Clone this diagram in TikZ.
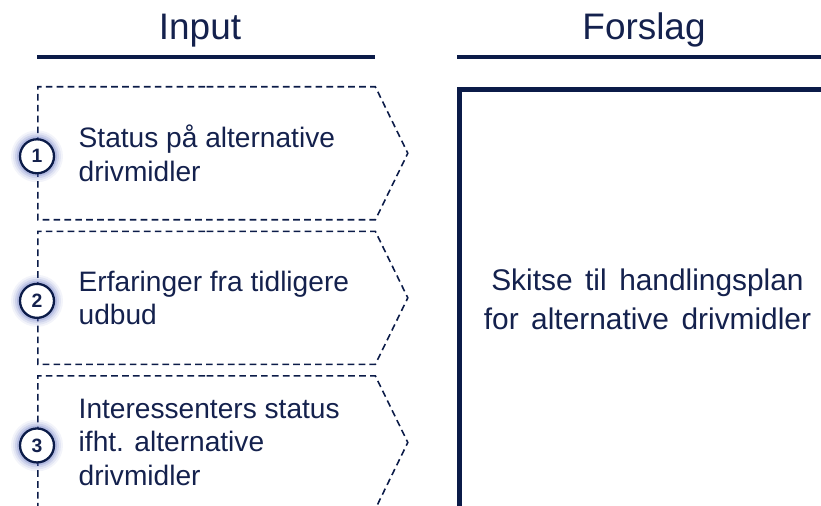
\documentclass[tikz,border=0pt]{standalone}
\usepackage{fontspec}
\setmainfont{Liberation Sans}
\usetikzlibrary{positioning,shapes.symbols}
\definecolor{cnavy}{HTML}{0B1B48}
\definecolor{ctext}{HTML}{14214D}
\definecolor{cglow}{HTML}{5566BB}
\newcommand\widespace{\spaceskip=0.42em\relax}

\begin{document}
\begin{tikzpicture}[
  title/.style={font=\fontsize{10.5}{12}\selectfont, text=ctext, anchor=base},
  rule/.style={draw=cnavy, line width=0.9pt},
  inbox/.style={draw=cnavy, dash pattern=on 1.9pt off 1.2pt, line width=0.45pt,
                shape=signal, signal to=east, signal pointer angle=128,
                minimum width=3.70cm, minimum height=1.33cm, inner sep=0pt},
  itemtext/.style={font=\fontsize{8}{9.6}\selectfont, text=ctext, align=left,
                   inner sep=0pt},
  num/.style={circle, draw=cnavy, line width=0.65pt, fill=white,
              minimum size=0.34cm, inner sep=0pt,
              font=\fontsize{5.5}{6}\selectfont\bfseries, text=ctext},
  node distance=0.10cm
]
\useasboundingbox (0,0) rectangle (8.21,5.06);
\clip (0,0) rectangle (8.21,5.06);

% column headings
\node[title] (tin) at (2.00,4.66) {Input};
\node[title] (tout) at (6.44,4.66) {Forslag};
\draw[rule] (0.37,4.49) -- (3.75,4.49);
\draw[rule] (4.57,4.49) -- (8.32,4.49);

% input chevrons
\node[inbox, anchor=north west] (b1) at (0.37,4.20) {};
\node[inbox, below=of b1] (b2) {};
\node[inbox, below=of b2] (b3) {};

\node[itemtext, right=0.41cm of b1.west, anchor=west] (t1)
  {Status på alternative\\drivmidler};
\node[itemtext, right=0.41cm of b2.west, anchor=west] (t2)
  {Erfaringer fra tidligere\\udbud};
\node[itemtext, right=0.41cm of b3.west, anchor=west] (t3)
  {Interessenters status\\ifht. alternative\\drivmidler};

% numbered markers with a soft halo
\foreach \b/\n in {b1/1,b2/2,b3/3}{
  \foreach \r/\o in {0.26/0.07,0.24/0.10,0.22/0.15,0.20/0.22}
    \fill[cglow, opacity=\o] ([yshift=-0.03cm]\b.west) circle (\r);
  \node[num] (n\n) at ([yshift=-0.03cm]\b.west) {\n};
}

% proposal box
\node[draw=cnavy, line width=1.4pt, anchor=north west,
      minimum width=3.76cm, minimum height=4.20cm,
      font=\fontsize{8.5}{11.3}\selectfont\widespace, text=ctext,
      align=center]
  (plan) at (4.57,4.19) {Skitse til handlingsplan\\for alternative drivmidler};
\end{tikzpicture}
\end{document}
